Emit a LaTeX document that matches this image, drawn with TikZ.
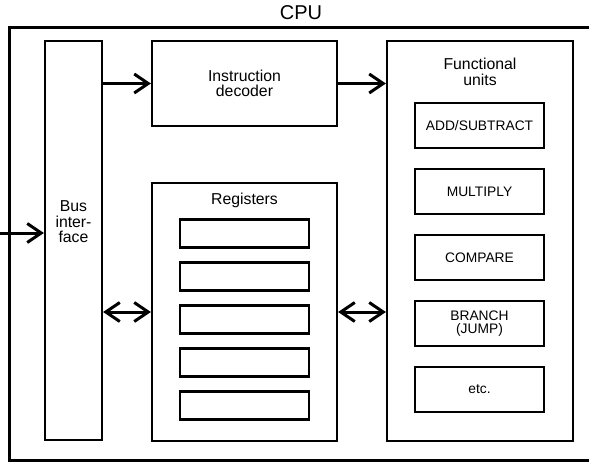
\documentclass[tikz,border=0pt]{standalone}
\usepackage{fontspec}
\setmainfont{Liberation Sans}
\usetikzlibrary{arrows.meta}

\begin{document}
\begin{tikzpicture}[x=1pt,y=-1pt,
  box/.style={draw,line width=2.2pt,inner sep=0pt},
  slot/.style={draw,line width=2.4pt,inner sep=0pt,minimum width=129pt,align=center,font=\fontsize{13.8}{13}\selectfont},
  txt/.style={align=center,inner sep=0pt,font=\fontsize{15.8}{15.5}\selectfont},
  arr/.style={line width=3pt,-{Straight Barb[length=14pt,width=19pt]}},
  darr/.style={line width=3pt,{Straight Barb[length=14pt,width=19pt]}-{Straight Barb[length=14pt,width=19pt]}}]
\useasboundingbox (0,0) rectangle (589,463);
\clip (0,0) rectangle (589,463);

\node[draw,line width=3pt,inner sep=0pt,minimum width=591pt,minimum height=433pt] (cpu) at (304.5,243.5) {};
\node[inner sep=0pt,font=\fontsize{20}{20}\selectfont] (cputxt) at (301,12.5) {CPU};

\node[box,minimum width=57pt,minimum height=399pt] (bus) at (73.5,240.5) {};
\node[txt] (bustxt) at (73.5,222) {Bus\\inter-\\face};

\node[box,minimum width=185pt,minimum height=85pt,txt] (dec) at (244.5,83.5) {Instruction\\decoder};

\node[box,minimum width=185pt,minimum height=258pt] (reg) at (244.5,312) {};
\node[txt] (regtxt) at (244.5,200) {Registers};
\foreach \i in {0,...,4}
  \node[slot,minimum height=28pt] (r\i) at (244.5,233.5+43*\i) {};

\node[box,minimum width=186pt,minimum height=400pt] (fu) at (480,241) {};
\node[txt] (futxt) at (480,72) {Functional\\units};
\foreach \t [count=\i from 0] in {ADD/SUBTRACT,MULTIPLY,COMPARE,BRANCH\\(JUMP),etc.}
  \node[slot,minimum height=45pt] (f\i) at (479.5,125.5+66*\i) {\t};

\coordinate (in) at (0,233);
\draw[arr] (in) -- (bus.west |- in);
\draw[arr] (bus.east |- dec.west) -- (dec.west);
\draw[arr] (dec.east) -- (fu.west |- dec.east);
\draw[darr] (bus.east |- reg.west) -- (reg.west);
\draw[darr] (reg.east) -- (fu.west |- reg.east);
\end{tikzpicture}
\end{document}
